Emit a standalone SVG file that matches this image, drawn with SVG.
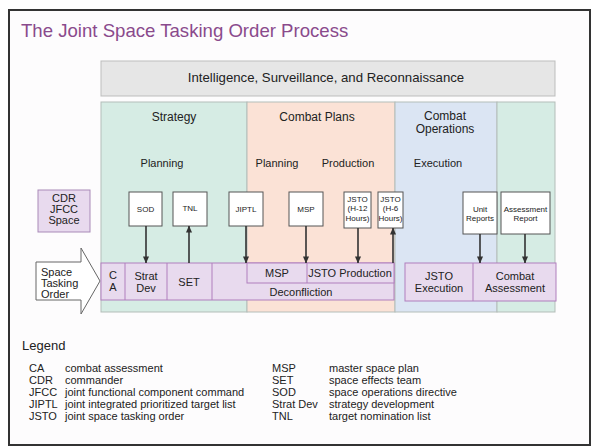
<svg xmlns="http://www.w3.org/2000/svg" width="600" height="448" viewBox="0 0 600 448">
<defs>
<marker id="ah" viewBox="0 0 8 8" refX="7.5" refY="4" markerWidth="7" markerHeight="7" orient="auto" markerUnits="userSpaceOnUse">
<path d="M0,0.5 L8,4 L0,7.5 z" fill="#333"/>
</marker>
<style>
text{font-family:"Liberation Sans",Arial,sans-serif;fill:#222}
.col{stroke:#b4bdb9;stroke-width:1}
.doc{fill:#fff;stroke:#555;stroke-width:1}
.band{fill:#e8daee;stroke:#b07fbd;stroke-width:1}
.dt{font-size:8px;text-anchor:middle}
.bt{font-size:11px;text-anchor:middle}
.hd{font-size:12px;text-anchor:middle}
.lg{font-size:11px}
.conn{stroke:#333;stroke-width:1.6;fill:none;marker-end:url(#ah)}
</style>
</defs>
<rect x="0" y="0" width="600" height="448" fill="#fff"/>
<rect x="9" y="10" width="581" height="435" fill="#fdfcfd" stroke="#333" stroke-width="2"/>
<text x="21" y="37" style="font-size:18.6px;fill:#8a4a8c">The Joint Space Tasking Order Process</text>

<g id="isr">
<rect x="101" y="61" width="454" height="35" fill="#e6e6e6" stroke="#bdbdbd"/>
<text x="326" y="82" style="font-size:13.2px;text-anchor:middle">Intelligence, Surveillance, and Reconnaissance</text>
</g>

<g id="col-strategy">
<rect class="col" x="101" y="102" width="146" height="210" fill="#d6ece4"/>
<text class="hd" x="174" y="121">Strategy</text>
<text class="bt" x="162" y="167">Planning</text>
</g>
<g id="col-plans">
<rect class="col" x="247" y="102" width="148" height="210" fill="#fbe2d6"/>
<text class="hd" x="317" y="121">Combat Plans</text>
<text class="bt" x="277" y="167">Planning</text>
<text class="bt" x="348" y="167">Production</text>
</g>
<g id="col-ops">
<rect class="col" x="395" y="102" width="102" height="210" fill="#dbe5f3"/>
<text class="hd" x="445" y="120">Combat</text>
<text class="hd" x="445" y="133">Operations</text>
<text class="bt" x="438" y="167">Execution</text>
</g>
<g id="col-assess">
<rect class="col" x="497" y="102" width="58" height="210" fill="#d6ece4"/>
</g>

<g id="cdr">
<rect x="38" y="190" width="52" height="42" fill="#e8daee" stroke="#a98ab8"/>
<text class="bt" x="64" y="202">CDR</text>
<text class="bt" x="64" y="213">JFCC</text>
<text class="bt" x="64" y="224">Space</text>
</g>

<g id="sto">
<polygon points="36,262 81,262 81,248 100,281 81,314 81,300 36,300" fill="#fff" stroke="#666"/>
<text class="lg" x="41" y="276">Space</text>
<text class="lg" x="41" y="287">Tasking</text>
<text class="lg" x="41" y="298">Order</text>
</g>

<g id="band-plan">
<rect class="band" x="101" y="263" width="293" height="37"/>
<line x1="125" y1="263" x2="125" y2="300" stroke="#b07fbd"/>
<line x1="167" y1="263" x2="167" y2="300" stroke="#b07fbd"/>
<line x1="212" y1="263" x2="212" y2="300" stroke="#b07fbd"/>
<rect class="band" x="247" y="263" width="147" height="20"/>
<line x1="307" y1="263" x2="307" y2="283" stroke="#b07fbd"/>
<text class="bt" x="113" y="279">C</text>
<text class="bt" x="113" y="291">A</text>
<text class="bt" x="146" y="280">Strat</text>
<text class="bt" x="146" y="292">Dev</text>
<text class="bt" x="189" y="286">SET</text>
<text class="bt" x="277" y="277">MSP</text>
<text class="bt" x="350" y="277">JSTO Production</text>
<text class="bt" x="301" y="296">Deconfliction</text>
</g>

<g id="band-exec">
<rect class="band" x="405" y="263" width="151" height="38"/>
<line x1="473" y1="263" x2="473" y2="301" stroke="#b07fbd"/>
<text class="bt" x="439" y="280">JSTO</text>
<text class="bt" x="439" y="292">Execution</text>
<text class="bt" x="515" y="280">Combat</text>
<text class="bt" x="515" y="292">Assessment</text>
</g>

<g id="sod"><rect class="doc" x="129" y="192" width="33" height="34"/><text class="dt" x="145.5" y="212">SOD</text></g>
<g id="tnl"><rect class="doc" x="173" y="192" width="34" height="34"/><text class="dt" x="190" y="211">TNL</text></g>
<g id="jiptl"><rect class="doc" x="229" y="192" width="34" height="34"/><text class="dt" x="246" y="212">JIPTL</text></g>
<g id="msp"><rect class="doc" x="289" y="192" width="34" height="34"/><text class="dt" x="306" y="212">MSP</text></g>
<g id="jsto12"><rect class="doc" x="344" y="192" width="27" height="36"/><text class="dt" x="357.5" y="202">JSTO</text><text class="dt" x="357.5" y="211">(H-12</text><text class="dt" x="357.5" y="221">Hours)</text></g>
<g id="jsto6"><rect class="doc" x="378" y="192" width="25" height="36"/><text class="dt" x="390.5" y="202">JSTO</text><text class="dt" x="390.5" y="211">(H-6</text><text class="dt" x="390.5" y="221">Hours)</text></g>
<g id="unit"><rect class="doc" x="463" y="192" width="34" height="42"/><text class="dt" x="480" y="212">Unit</text><text class="dt" x="480" y="221">Reports</text></g>
<g id="assessrep"><rect class="doc" x="501" y="192" width="49" height="42"/><text class="dt" x="525.5" y="212">Assessment</text><text class="dt" x="525.5" y="221">Report</text></g>

<g id="connectors">
<line class="conn" x1="146" y1="226" x2="146" y2="263"/>
<line class="conn" x1="189" y1="263" x2="189" y2="226"/>
<line class="conn" x1="246" y1="226" x2="246" y2="263"/>
<line class="conn" x1="306" y1="226" x2="306" y2="263"/>
<line class="conn" x1="358" y1="228" x2="358" y2="263"/>
<line class="conn" x1="393" y1="263" x2="393" y2="228"/>
<line class="conn" x1="480" y1="234" x2="480" y2="263"/>
<line class="conn" x1="525" y1="234" x2="525" y2="263"/>
</g>

<g id="legend">
<text x="22" y="350" style="font-size:13px">Legend</text>
<text class="lg" x="29" y="372">CA</text><text class="lg" x="65" y="372">combat assessment</text>
<text class="lg" x="29" y="384">CDR</text><text class="lg" x="65" y="384">commander</text>
<text class="lg" x="29" y="396">JFCC</text><text class="lg" x="65" y="396">joint functional component command</text>
<text class="lg" x="29" y="408">JIPTL</text><text class="lg" x="65" y="408">joint integrated prioritized target list</text>
<text class="lg" x="29" y="420">JSTO</text><text class="lg" x="65" y="420">joint space tasking order</text>
<text class="lg" x="272" y="372">MSP</text><text class="lg" x="329" y="372">master space plan</text>
<text class="lg" x="272" y="384">SET</text><text class="lg" x="329" y="384">space effects team</text>
<text class="lg" x="272" y="396">SOD</text><text class="lg" x="329" y="396">space operations directive</text>
<text class="lg" x="272" y="408">Strat Dev</text><text class="lg" x="329" y="408">strategy development</text>
<text class="lg" x="272" y="420">TNL</text><text class="lg" x="329" y="420">target nomination list</text>
</g>
</svg>
